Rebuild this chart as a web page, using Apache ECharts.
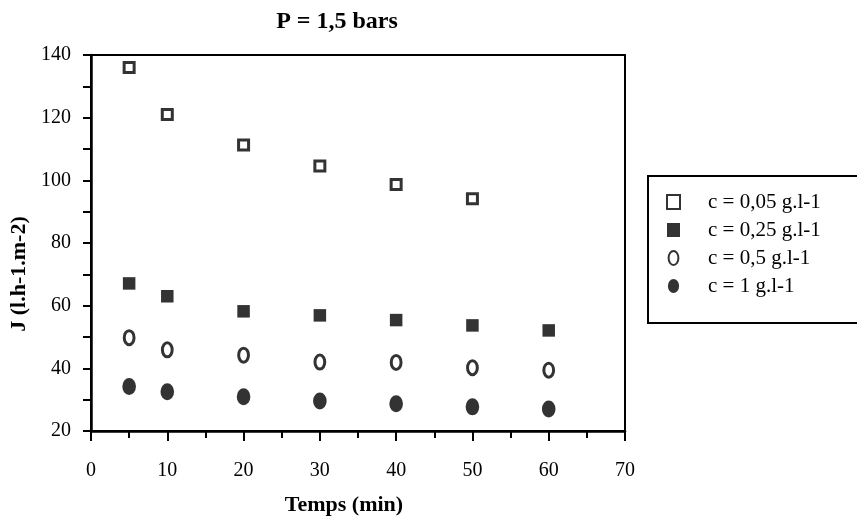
<!DOCTYPE html>
<html>
<head>
<meta charset="utf-8">
<script src="https://cdn.jsdelivr.net/npm/echarts@6/dist/echarts.min.js"></script>
<style>
  html, body { margin: 0; padding: 0; background: #fff; }
  #chart { width: 857px; height: 522px; }
</style>
</head>
<body>
<div id="chart"></div>
<script>
// temps (min)
const times = [5, 10, 20, 30, 40, 50, 60]
// flux J (l.h-1.m-2) pour chaque concentration
const c005 = [136, 121, 111.3, 104.6, 98.7, 94.1]
const c025 = [67.1, 63, 58.2, 56.9, 55.4, 53.7, 52.1]
const c05 = [49.8, 45.9, 44.2, 42, 41.9, 40.2, 39.4]
const c1 = [34.2, 32.5, 30.9, 29.6, 28.7, 27.7, 27]
const seriesNames = ['c = 0,05 g.l-1', 'c = 0,25 g.l-1', 'c = 0,5 g.l-1', 'c = 1 g.l-1']

const serif = '"Liberation Serif", "DejaVu Serif", serif'
const openOval = 'path://M0,-10 A7,10 0 1,1 0,10 A7,10 0 1,1 0,-10 Z'
const fullOval = 'path://M0,-10 A8,10 0 1,1 0,10 A8,10 0 1,1 0,-10 Z'

const pairs = (ys) => ys.map((y, i) => [times[i], y])

const chart = echarts.init(document.getElementById('chart'), null, { renderer: 'canvas' })
chart.setOption({
  animation: false,
  backgroundColor: '#fff',
  title: {
    text: 'P = 1,5 bars',
    left: 332,
    top: 5,
    textAlign: 'center',
    textStyle: { fontFamily: serif, fontWeight: 'bold', fontSize: 24, color: '#000' },
  },
  grid: {
    left: 91,
    right: 232,
    top: 55,
    bottom: 91,
    show: true,
    borderColor: '#000',
    borderWidth: 2,
  },
  legend: {
    orient: 'vertical',
    left: 648,
    top: 176,
    padding: [15, 80, 26, 18],
    itemGap: 6,
    itemWidth: 13,
    itemHeight: 14,
    borderColor: '#000',
    borderWidth: 2,
    textStyle: { fontFamily: serif, fontSize: 21, lineHeight: 20, color: '#000', padding: [2, 0, 0, 23] },
    data: seriesNames,
  },
  xAxis: {
    type: 'value',
    min: 0,
    max: 70,
    interval: 10,
    name: 'Temps (min)',
    nameLocation: 'middle',
    nameGap: 63,
    nameTextStyle: { fontFamily: serif, fontWeight: 'bold', fontSize: 22, color: '#000', padding: [0, 28, 0, 0] },
    axisLine: { onZero: false, lineStyle: { color: '#000', width: 2.5 } },
    axisTick: { show: true, length: 10, lineStyle: { color: '#000', width: 2 } },
    minorTick: { show: true, splitNumber: 2, length: 7, lineStyle: { color: '#000', width: 2 } },
    splitLine: { show: false },
    axisLabel: { fontFamily: serif, fontSize: 20, color: '#000', margin: 30 },
  },
  yAxis: {
    type: 'value',
    min: 20,
    max: 140,
    interval: 20,
    name: 'J (l.h-1.m-2)',
    nameLocation: 'middle',
    nameGap: 59,
    nameTextStyle: { fontFamily: serif, fontWeight: 'bold', fontSize: 22, color: '#000', padding: [0, 62, 0, 0] },
    axisLine: { onZero: false, lineStyle: { color: '#000', width: 2.5 } },
    axisTick: { show: true, length: 8, lineStyle: { color: '#000', width: 2 } },
    minorTick: { show: true, splitNumber: 2, length: 8, lineStyle: { color: '#000', width: 2 } },
    splitLine: { show: false },
    axisLabel: { fontFamily: serif, fontSize: 20, color: '#000', margin: 20 },
  },
  series: [
    {
      name: seriesNames[0],
      type: 'scatter',
      symbol: 'rect',
      symbolSize: 10,
      itemStyle: { color: '#fff', borderColor: '#000', borderWidth: 3 },
      data: pairs(c005),
    },
    {
      name: seriesNames[1],
      type: 'scatter',
      symbol: 'rect',
      symbolSize: 12.5,
      itemStyle: { color: '#000' },
      data: pairs(c025),
    },
    {
      name: seriesNames[2],
      type: 'scatter',
      symbol: openOval,
      symbolKeepAspect: true,
      symbolSize: 14,
      itemStyle: { color: '#fff', borderColor: '#000', borderWidth: 3 },
      data: pairs(c05),
    },
    {
      name: seriesNames[3],
      type: 'scatter',
      symbol: fullOval,
      symbolKeepAspect: true,
      symbolSize: 17,
      itemStyle: { color: '#000' },
      data: pairs(c1),
    },
  ],
})
</script>
</body>
</html>
